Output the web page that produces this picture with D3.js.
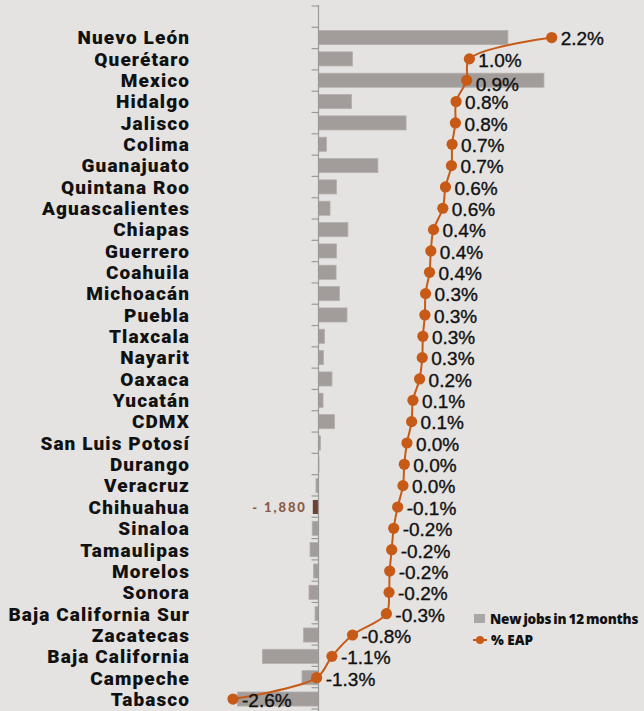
<!DOCTYPE html>
<html>
<head>
<meta charset="utf-8">
<script src="https://cdn.jsdelivr.net/npm/d3@7"></script>
<style>
  body { margin: 0; background: #e4e3e1; }
</style>
</head>
<body>
<div id="chart"></div>
<script>
// states, top to bottom
var states = ["Nuevo León", "Querétaro", "Mexico", "Hidalgo", "Jalisco", "Colima",
  "Guanajuato", "Quintana Roo", "Aguascalientes", "Chiapas", "Guerrero", "Coahuila",
  "Michoacán", "Puebla", "Tlaxcala", "Nayarit", "Oaxaca", "Yucatán", "CDMX",
  "San Luis Potosí", "Durango", "Veracruz", "Chihuahua", "Sinaloa", "Tamaulipas",
  "Morelos", "Sonora", "Baja California Sur", "Zacatecas", "Baja California",
  "Campeche", "Tabasco"];

// new formal jobs in 12 months
var newJobs = [62500, 11200, 74400, 10900, 28900, 2600,
  19600, 5900, 3800, 9700, 5900, 5800,
  6900, 9400, 2000, 1650, 4450, 1500, 5300,
  660, 170, -830, -1880, -2080, -2800,
  -1650, -3140, -1150, -4950, -18500,
  -5450, -26700];

// new jobs as % of economically active population
var eap = [2.20, 0.96, 0.92, 0.76, 0.75, 0.70,
  0.69, 0.60, 0.56, 0.42, 0.38, 0.36,
  0.30, 0.29, 0.26, 0.25, 0.21, 0.11, 0.09,
  0.02, -0.02, -0.04, -0.12, -0.18, -0.21,
  -0.24, -0.25, -0.29, -0.80, -1.11,
  -1.34, -2.60];

var highlight = "Chihuahua";

var width = 644, height = 711;

var svg = d3.select("#chart")
    .append("svg")
    .attr("width", width)
    .attr("height", height);

var y = d3.scaleBand()
    .domain(states)
    .range([26.9, 709.7])
    .paddingInner(0.34)
    .paddingOuter(0.17);

// bars: jobs
var x = d3.scaleLinear()
    .domain([-30000, 90000])
    .range([318.5 - 30000 / 330, 318.5 + 90000 / 330]);

// line: % EAP
var xp = d3.scaleLinear()
    .domain([-2.6, 2.2])
    .range([233, 551.7]);

var rows = states.map(function (s, i) {
    return { state: s, jobs: newJobs[i], eap: eap[i] };
});

function cy(d) { return y(d.state) + y.bandwidth() / 2; }

// bars
svg.append("g")
    .selectAll("rect")
    .data(rows)
    .enter()
    .append("rect")
    .attr("x", function (d) { return Math.min(x(0), x(d.jobs)); })
    .attr("y", function (d) { return y(d.state); })
    .attr("width", function (d) { return Math.abs(x(d.jobs) - x(0)); })
    .attr("height", y.bandwidth())
    .style("fill", function (d) { return d.state == highlight ? "#6e4232" : "#a29d9a"; })
    .style("stroke", function (d) { return d.state == highlight ? "none" : "#b3afac"; })
    .style("stroke-width", 0.8);

// highlighted value
var hl = rows.filter(function (d) { return d.state == highlight; })[0];
svg.append("text")
    .attr("x", x(hl.jobs) - 6)
    .attr("y", cy(hl))
    .attr("dy", "0.35em")
    .attr("text-anchor", "end")
    .style("font-family", "Lato, sans-serif")
    .style("font-weight", 900)
    .style("font-size", "13px")
    .style("letter-spacing", "1.9px")
    .style("fill", "#8a5a45")
    .text("- " + d3.format(",")(Math.abs(hl.jobs)));

// vertical axis line with ticks
var tickPos = d3.scaleLinear().domain([0, 33]).range([6, 709]);
var axis = svg.append("g").style("stroke", "#9a9a9a").style("stroke-width", 1.2);
axis.append("line")
    .attr("x1", x(0)).attr("x2", x(0))
    .attr("y1", 5).attr("y2", height);
axis.selectAll("line.tick")
    .data(d3.range(0, 34))
    .enter()
    .append("line")
    .attr("class", "tick")
    .attr("x1", x(0) - 7).attr("x2", x(0))
    .attr("y1", function (d) { return tickPos(d); })
    .attr("y2", function (d) { return tickPos(d); });

// state labels
svg.append("g")
    .selectAll("text")
    .data(rows)
    .enter()
    .append("text")
    .attr("x", 190)
    .attr("y", cy)
    .attr("dy", "0.36em")
    .attr("text-anchor", "end")
    .style("font-family", "Roboto, sans-serif")
    .style("font-weight", 900)
    .style("font-size", "19px")
    .style("letter-spacing", "1.1px")
    .style("fill", "#111")
    .text(function (d) { return d.state; });

// % EAP line
var line = d3.line()
    .x(function (d) { return xp(d.eap); })
    .y(cy)
    .curve(d3.curveCatmullRom.alpha(0.5));

svg.append("path")
    .datum(rows)
    .attr("d", line)
    .style("fill", "none")
    .style("stroke", "#c75a17")
    .style("stroke-width", 2);

svg.append("g")
    .selectAll("circle")
    .data(rows)
    .enter()
    .append("circle")
    .attr("cx", function (d) { return xp(d.eap); })
    .attr("cy", cy)
    .attr("r", 5.6)
    .style("fill", "#c75a17");

function pct(v) { return (Math.round(v * 10) / 10 || 0).toFixed(1) + "%"; }

svg.append("g")
    .selectAll("text")
    .data(rows)
    .enter()
    .append("text")
    .attr("x", function (d) { return xp(d.eap) + 9; })
    .attr("y", function (d) { return cy(d) + (d.state == "Mexico" ? 4 : 1); })
    .attr("dy", "0.36em")
    .style("font-family", "'Liberation Sans', Arial, sans-serif")
    .style("font-size", "19px")
    .style("fill", "#111")
    .style("stroke", "#111")
    .style("stroke-width", 0.35)
    .text(function (d) { return pct(d.eap); });

// legend
var lg = svg.append("g").attr("transform", "translate(474,612)");
lg.append("rect")
    .attr("x", 0).attr("y", 2)
    .attr("width", 11).attr("height", 9)
    .style("fill", "#a8a8a8");
lg.append("text")
    .attr("x", 16).attr("y", 7)
    .attr("dy", "0.35em")
    .style("font-family", "'Open Sans', sans-serif")
    .style("font-weight", 800)
    .style("font-size", "13.5px")
    .style("letter-spacing", "-0.2px")
    .style("word-spacing", "-1.2px")
    .style("fill", "#111")
    .text("New jobs in 12 months");
lg.append("line")
    .attr("x1", -1).attr("x2", 13)
    .attr("y1", 28).attr("y2", 28)
    .style("stroke", "#c75a17").style("stroke-width", 2);
lg.append("circle")
    .attr("cx", 6).attr("cy", 28).attr("r", 4)
    .style("fill", "#c75a17");
lg.append("text")
    .attr("x", 17).attr("y", 28)
    .attr("dy", "0.35em")
    .style("font-family", "'Open Sans', sans-serif")
    .style("font-weight", 800)
    .style("font-size", "13.5px")
    .style("fill", "#111")
    .text("% EAP");
</script>
</body>
</html>
